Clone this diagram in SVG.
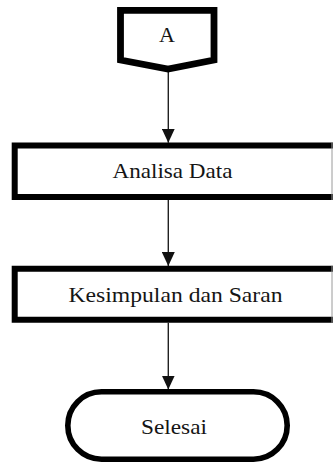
<svg xmlns="http://www.w3.org/2000/svg" width="333" height="464" viewBox="0 0 333 464">
  <style>
    .shape { fill: #fff; stroke: #000; stroke-linejoin: miter; }
    .label { font-family: 'Liberation Serif', 'DejaVu Serif', 'Noto Serif', serif; font-size: 22px; fill: #151515; text-anchor: middle; }
    .flow { fill: none; stroke: #222; stroke-width: 1.4; }
    .edge { stroke: #9a9a9a; stroke-width: 1; }
  </style>
  <defs>
    <marker id="arrow" markerUnits="userSpaceOnUse" markerWidth="14" markerHeight="13" refX="14" refY="6.5" orient="auto">
      <path d="M0,0 L14,6.5 L0,13 Z" fill="#111"/>
    </marker>
  </defs>

  <rect width="333" height="464" fill="#fff"/>

  <!-- connectors -->
  <g id="connectors">
    <line class="flow" x1="168.3" y1="69" x2="168.3" y2="142.7" marker-end="url(#arrow)"/>
    <line class="flow" x1="168.3" y1="200" x2="168.3" y2="266" marker-end="url(#arrow)"/>
    <line class="flow" x1="168.3" y1="322.7" x2="168.3" y2="389.5" marker-end="url(#arrow)"/>
  </g>

  <!-- off-page reference A -->
  <g id="node-a">
    <path class="shape" stroke-width="6.8" d="M120.5,10.3 H214 V60 L168,69 L120.5,60 Z"/>
    <text class="label" x="167" y="41.5">A</text>
  </g>

  <!-- Analisa Data -->
  <g id="node-analisa">
    <rect x="14.7" y="145.5" width="330" height="51.5" fill="#fff"/>
    <path class="shape" fill="none" stroke-width="6" d="M333,145.5 H14.7 V197 H333"/>
    <line class="edge" x1="332" y1="142.5" x2="332" y2="200"/>
    <text class="label" x="172.5" y="177.5" textLength="120" lengthAdjust="spacingAndGlyphs">Analisa Data</text>
  </g>

  <!-- Kesimpulan dan Saran -->
  <g id="node-kesimpulan">
    <path class="shape" fill="none" stroke-width="6" d="M333,268.7 H14.7 V319.7 H333"/>
    <line class="edge" x1="332" y1="265.7" x2="332" y2="322.7"/>
    <text class="label" x="175.5" y="302" textLength="214" lengthAdjust="spacingAndGlyphs">Kesimpulan dan Saran</text>
  </g>

  <!-- Selesai terminator -->
  <g id="node-selesai">
    <rect class="shape" x="67.8" y="391.8" width="219.4" height="67.4" rx="33.7" ry="33.7" stroke-width="5.6"/>
    <text class="label" x="174" y="433.5" textLength="66" lengthAdjust="spacingAndGlyphs">Selesai</text>
  </g>
</svg>
